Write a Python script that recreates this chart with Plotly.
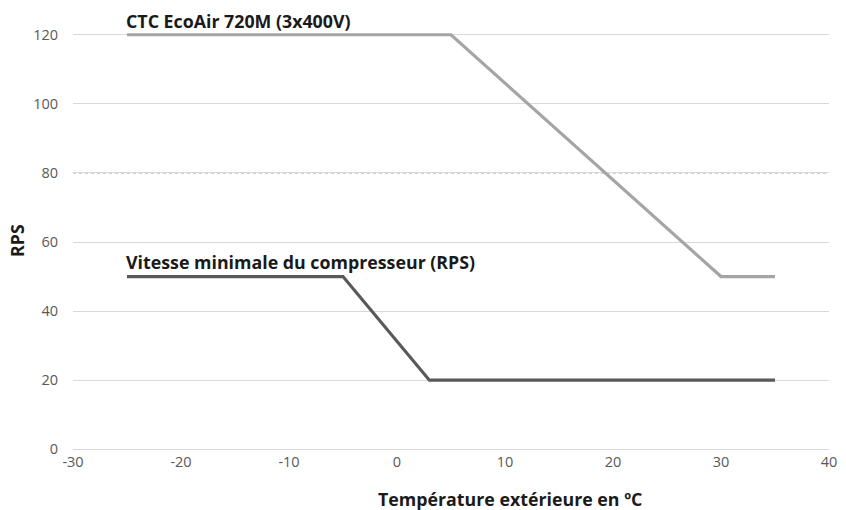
import plotly.graph_objects as go

# Data
temp_ecoair = [-25, 5, 30, 35]
rps_ecoair = [120, 120, 50, 50]
temp_min = [-25, -5, 3, 35]
rps_min = [50, 50, 20, 20]

x_ticks = [-30, -20, -10, 0, 10, 20, 30, 40]
x_tick_labels = ["-30", "-20", "-10", "0", "10", "20", "30", "40"]
y_ticks = [0, 20, 40, 60, 80, 100, 120]

label_ecoair = "CTC EcoAir 720M (3x400V)"
label_min = "Vitesse minimale du compresseur (RPS)"
x_title = "Température extérieure en ºC"
y_title = "RPS"

FONT = "Open Sans, Noto Sans, sans-serif"

fig = go.Figure()
fig.add_trace(go.Scatter(x=temp_ecoair, y=rps_ecoair, mode="lines",
                         line=dict(color="#a5a5a5", width=3.2),
                         cliponaxis=False, showlegend=False))
fig.add_trace(go.Scatter(x=temp_min, y=rps_min, mode="lines",
                         line=dict(color="#595959", width=3.2),
                         cliponaxis=False, showlegend=False))

# dotted gridline at 80
fig.add_shape(type="line", xref="paper", x0=0, x1=1, yref="y", y0=80, y1=80,
              line=dict(color="#8c8c8c", width=1, dash="dot"), layer="below")

fig.add_annotation(x=-25, y=120, xref="x", yref="y", text="<b>" + label_ecoair + "</b>",
                   showarrow=False, xanchor="left", yanchor="bottom", yshift=0, xshift=-3,
                   font=dict(family=FONT, size=17.8, color="#1a1a1a"))
fig.add_annotation(x=-25, y=50, xref="x", yref="y", text="<b>" + label_min + "</b>",
                   showarrow=False, xanchor="left", yanchor="bottom", yshift=1, xshift=-3,
                   font=dict(family=FONT, size=17.8, color="#1a1a1a"))
fig.add_annotation(x=0.5785, y=-0.116, xref="paper", yref="paper", text="<b>" + x_title + "</b>",
                   showarrow=False, xanchor="center", yanchor="middle",
                   font=dict(family=FONT, size=17.8, color="#1a1a1a"))
fig.add_annotation(x=-0.0733, y=0.504, xref="paper", yref="paper", text="<b>" + y_title + "</b>",
                   showarrow=False, xanchor="center", yanchor="middle", textangle=-90,
                   font=dict(family=FONT, size=17.8, color="#1a1a1a"))

fig.update_layout(
    width=846, height=510,
    margin=dict(l=73, r=9, t=33, b=59),
    paper_bgcolor="white", plot_bgcolor="white",
    font=dict(family=FONT, size=14.5, color="#595959"),
    xaxis=dict(range=[-30, 40], tickvals=x_ticks, ticktext=x_tick_labels, showgrid=False,
               zeroline=False, showline=False, ticks="",
               tickfont=dict(size=14.5, color="#595959")),
    yaxis=dict(range=[-0.5, 120.5], tickvals=y_ticks, showgrid=True, gridcolor="#d9d9d9",
               gridwidth=1, zeroline=False, showline=False, ticks="",
               ticklabelstandoff=14, tickfont=dict(size=14.5, color="#595959")),
)

fig.write_html("out.html", config={"displayModeBar": False},
               post_script="document.body.style.margin='0px';document.body.style.overflow='hidden';")
